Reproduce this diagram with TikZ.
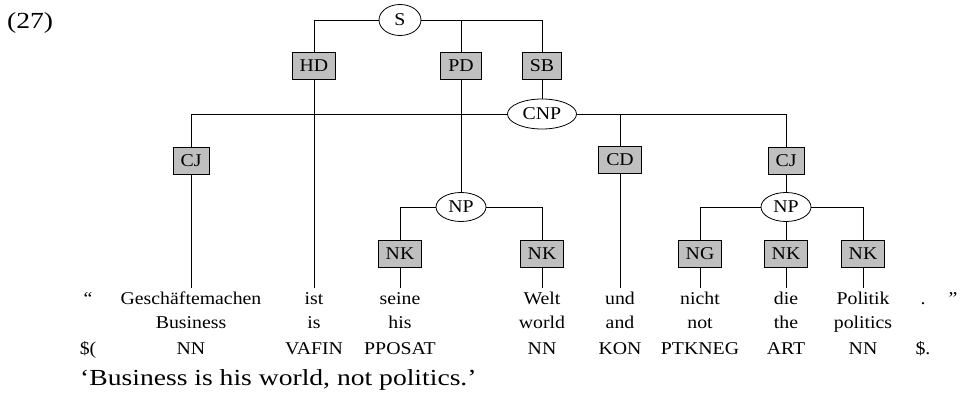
\documentclass[tikz,border=0pt]{standalone}
\usepackage{fontspec}
\setmainfont[FakeStretch=1.1]{Liberation Serif}
\newfontfamily\widefont[FakeStretch=1.2]{Liberation Serif}
\usetikzlibrary{shapes.geometric}
\begin{document}
\begin{tikzpicture}[x=1pt,y=-1pt,
  every node/.style={font=\fontsize{18}{22}\selectfont},
  cat/.style={draw, ellipse, fill=white, line width=0.8pt, inner sep=0pt, minimum height=30pt},
  fn/.style={draw, fill=gray!50, line width=0.9pt, inner xsep=7.5pt, inner ysep=0pt, minimum height=27pt},
  word/.style={anchor=base, inner sep=0pt, text height=16pt, text depth=0pt},
  row/.style={anchor=base, inner sep=0pt},
  big/.style={anchor=base west, inner sep=0pt, font=\widefont\fontsize{23}{27}\selectfont},
  link/.style={draw, line width=0.8pt}]
\path[use as bounding box] (0,0) rectangle (962,393);

% example number
\node[big] (exno) at (7,29) {(27)};

% phrase nodes
\node[cat, minimum width=42pt, minimum height=31pt] (S) at (400,20) {S};
\node[cat, minimum width=69pt] (CNP) at (542,114) {CNP};
\node[cat, minimum width=50pt, minimum height=29pt] (NPa) at (461,207) {NP};
\node[cat, minimum width=50pt, minimum height=29pt] (NPb) at (786,207) {NP};

% edge labels
\node[fn] (HD) at (314,66) {HD};
\node[fn] (PD) at (461,66) {PD};
\node[fn] (SB) at (542,66) {SB};
\node[fn] (CJa) at (191,161) {CJ};
\node[fn] (CD) at (620,160) {CD};
\node[fn] (CJb) at (786,161) {CJ};
\node[fn] (NKa) at (400,254) {NK};
\node[fn] (NKb) at (542,254) {NK};
\node[fn] (NG) at (700,254) {NG};
\node[fn] (NKc) at (786,254) {NK};
\node[fn] (NKd) at (863,254) {NK};

% words
\node[word] (w0) at (88,304) {“};
\node[word] (w1) at (191,304) {Geschäftemachen};
\node[word] (w2) at (314,304) {ist};
\node[word] (w3) at (400,304) {seine};
\node[word] (w4) at (542,304) {Welt};
\node[word] (w5) at (620,304) {und};
\node[word] (w6) at (700,304) {nicht};
\node[word] (w7) at (786,304) {die};
\node[word] (w8) at (863,304) {Politik};
\node[word] (w9) at (923,304) {.};
\node[word] (w10) at (953,304) {”};

% glosses
\node[row] (g1) at (191,328) {Business};
\node[row] (g2) at (314,328) {is};
\node[row] (g3) at (400,328) {his};
\node[row] (g4) at (542,328) {world};
\node[row] (g5) at (620,328) {and};
\node[row] (g6) at (700,328) {not};
\node[row] (g7) at (786,328) {the};
\node[row] (g8) at (863,328) {politics};

% part-of-speech tags
\node[row] (t0) at (88,354) {\$(};
\node[row] (t1) at (191,354) {NN};
\node[row] (t2) at (314,354) {VAFIN};
\node[row] (t3) at (400,354) {PPOSAT};
\node[row] (t4) at (542,354) {NN};
\node[row] (t5) at (620,354) {KON};
\node[row] (t6) at (700,354) {PTKNEG};
\node[row] (t7) at (786,354) {ART};
\node[row] (t8) at (863,354) {NN};
\node[row] (t9) at (923,354) {\$.};

% free translation
\node[big] (tr) at (80,385) {‘Business is his world, not politics.’};

% S
\path[link] (HD.north) |- (S.west);
\path[link] (S.east) -| (SB.north);
\path[link] (PD.north) -- (PD.north |- S.east);
\path[link] (HD.south) -- (w2.north);
\path[link] (PD.south) -- (NPa.north);
\path[link] (SB.south) -- (CNP.north);

% CNP
\path[link] (CNP.west) -| (CJa.north);
\path[link] (CNP.east) -| (CJb.north);
\path[link] (CD.north) -- (CD.north |- CNP.east);
\path[link] (CJa.south) -- (w1.north);
\path[link] (CD.south) -- (w5.north);
\path[link] (CJb.south) -- (NPb.north);

% first NP
\path[link] (NPa.west) -| (NKa.north);
\path[link] (NPa.east) -| (NKb.north);
\path[link] (NKa.south) -- (w3.north);
\path[link] (NKb.south) -- (w4.north);

% second NP
\path[link] (NPb.west) -| (NG.north);
\path[link] (NPb.east) -| (NKd.north);
\path[link] (NPb.south) -- (NKc.north);
\path[link] (NG.south) -- (w6.north);
\path[link] (NKc.south) -- (w7.north);
\path[link] (NKd.south) -- (w8.north);
\end{tikzpicture}
\end{document}
